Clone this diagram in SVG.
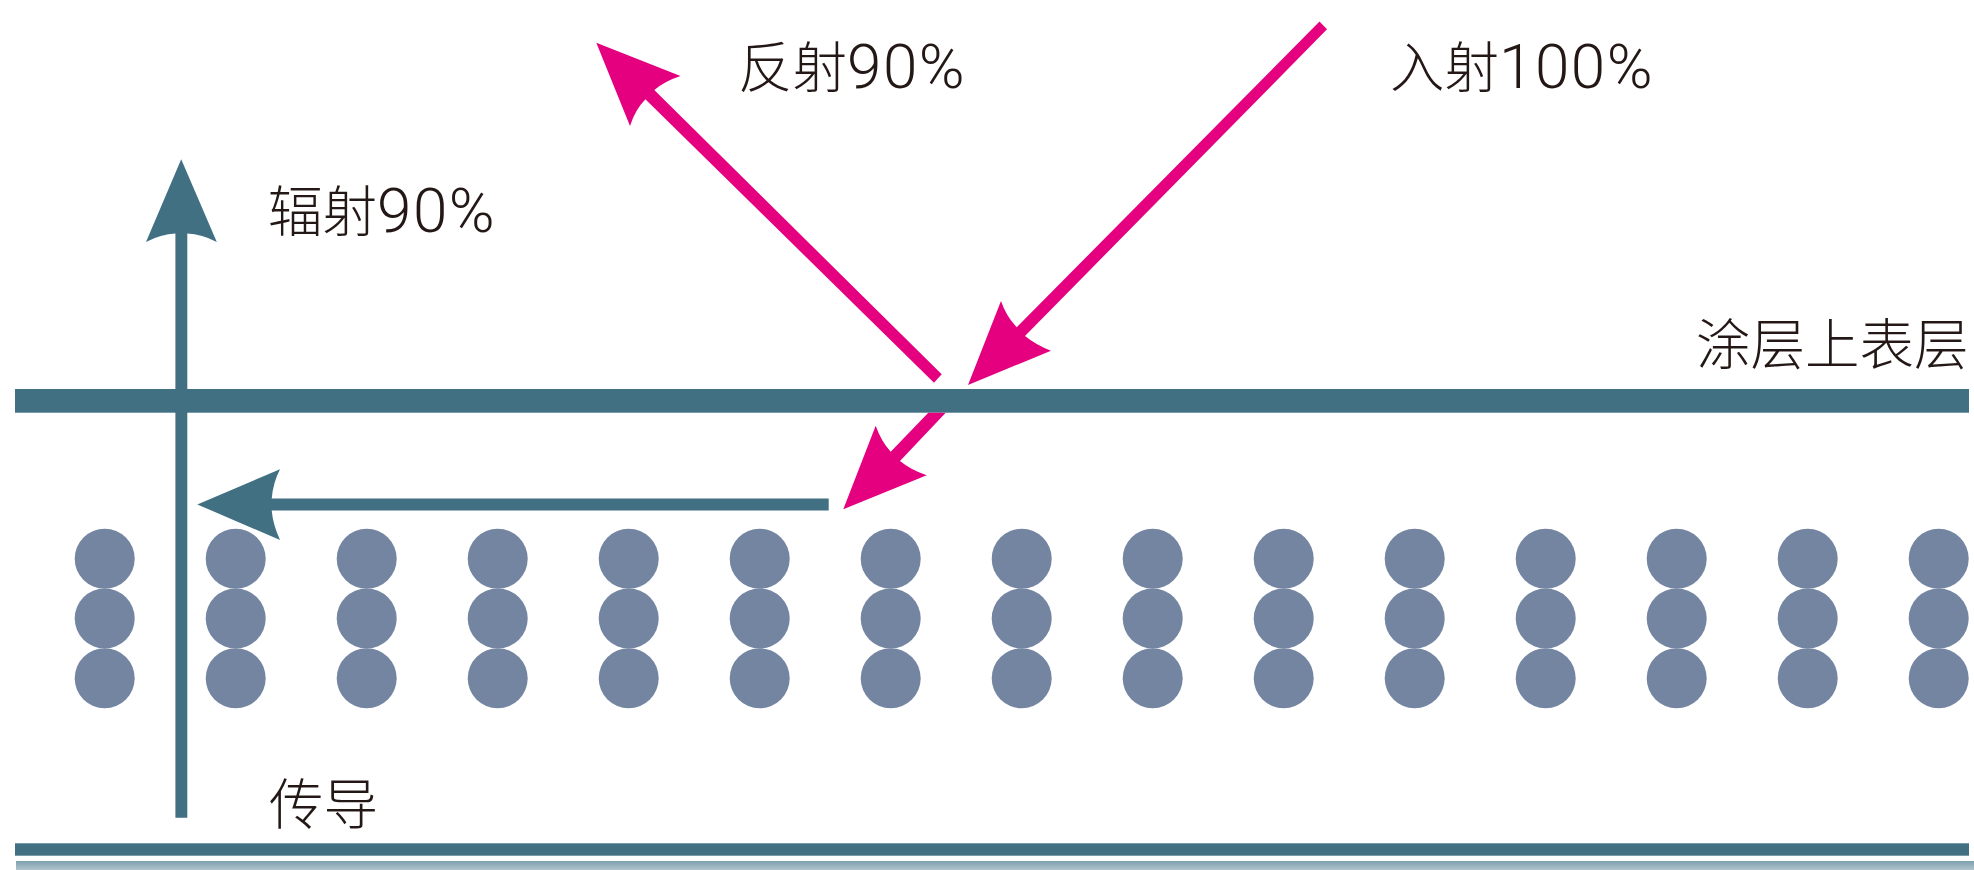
<svg xmlns="http://www.w3.org/2000/svg" width="1974" height="870" viewBox="0 0 1974 870">
<style>
.teal{fill:#417083}.pink{fill:#e4007f}.dot{fill:#7485a2}
text{fill:#231815;font-family:"Noto Sans CJK SC","Noto Sans",sans-serif;font-size:54.5px;font-weight:300}
.n{font-family:Roboto,"Liberation Sans",sans-serif;font-size:62px;font-weight:300;letter-spacing:1.5px}
</style>
<defs>
<linearGradient id="fade" x1="0" y1="0" x2="0" y2="1"><stop offset="0" stop-color="#7ea0b0"/><stop offset="1" stop-color="#b0c4cc"/></linearGradient>
<g id="col"><circle class="dot" cx="0" cy="558.7" r="30"/><circle class="dot" cx="0" cy="618.5" r="30"/><circle class="dot" cx="0" cy="678.3" r="30"/></g>
</defs>
<rect width="1974" height="870" fill="#fff"/>
<g id="layers">
<rect id="coating-top" class="teal" x="15" y="389" width="1954" height="23.7"/>
<rect id="base-line" class="teal" x="15" y="843.3" width="1954" height="12.4"/>
<rect id="base-fade" fill="url(#fade)" x="16" y="861" width="1958" height="9"/>
</g>
<g id="particles">
<use href="#col" x="104.7"/><use href="#col" x="235.7"/><use href="#col" x="366.7"/><use href="#col" x="497.7"/><use href="#col" x="628.7"/><use href="#col" x="759.7"/><use href="#col" x="890.7"/><use href="#col" x="1021.7"/><use href="#col" x="1152.7"/><use href="#col" x="1283.7"/><use href="#col" x="1414.7"/><use href="#col" x="1545.7"/><use href="#col" x="1676.7"/><use href="#col" x="1807.7"/><use href="#col" x="1938.7"/>
</g>
<g id="connectors">
<path id="radiation" class="teal" d="M175.4 817.7V233.5Q161 234 146 242L181.2 159.3L216.8 242Q202 234 187.3 233.5V817.7Z"/>
<path id="conduction" class="teal" d="M828.7 498.6V510.6H271.7Q273 525 280 540L197.3 504.4L280 469.3Q273 483 271.7 498.6Z"/>
<path id="reflected" class="pink" d="M941.7 374.3L934 382.7L645.4 99.3Q635 110 630 126L596.3 42.7L680.5 76Q665 81 654.3 90Z"/>
<path id="incident" class="pink" d="M1319.5 21.5L1327 29.3L1025 336Q1036 345 1051 350.7L968 385L1001 301Q1006 316 1016.7 327.3Z"/>
<path id="transmitted" class="pink" d="M928.3 412.7H945.7L900 461Q911 470 926.7 475.3L843.3 509.3L875.7 425.7Q881 441 890.7 451.7Z"/>
</g>
<g id="label-incident"><text x="1390" y="87">入射<tspan class="n" y="88">100%</tspan></text></g>
<g id="label-reflected"><text x="738" y="87">反射<tspan class="n" y="88">90%</tspan></text></g>
<g id="label-radiation"><text x="268" y="231">辐射<tspan class="n" y="232">90%</tspan></text></g>
<g id="label-coating"><text x="1696" y="364">涂层上表层</text></g>
<g id="label-conduction"><text x="269" y="824">传导</text></g>
</svg>
